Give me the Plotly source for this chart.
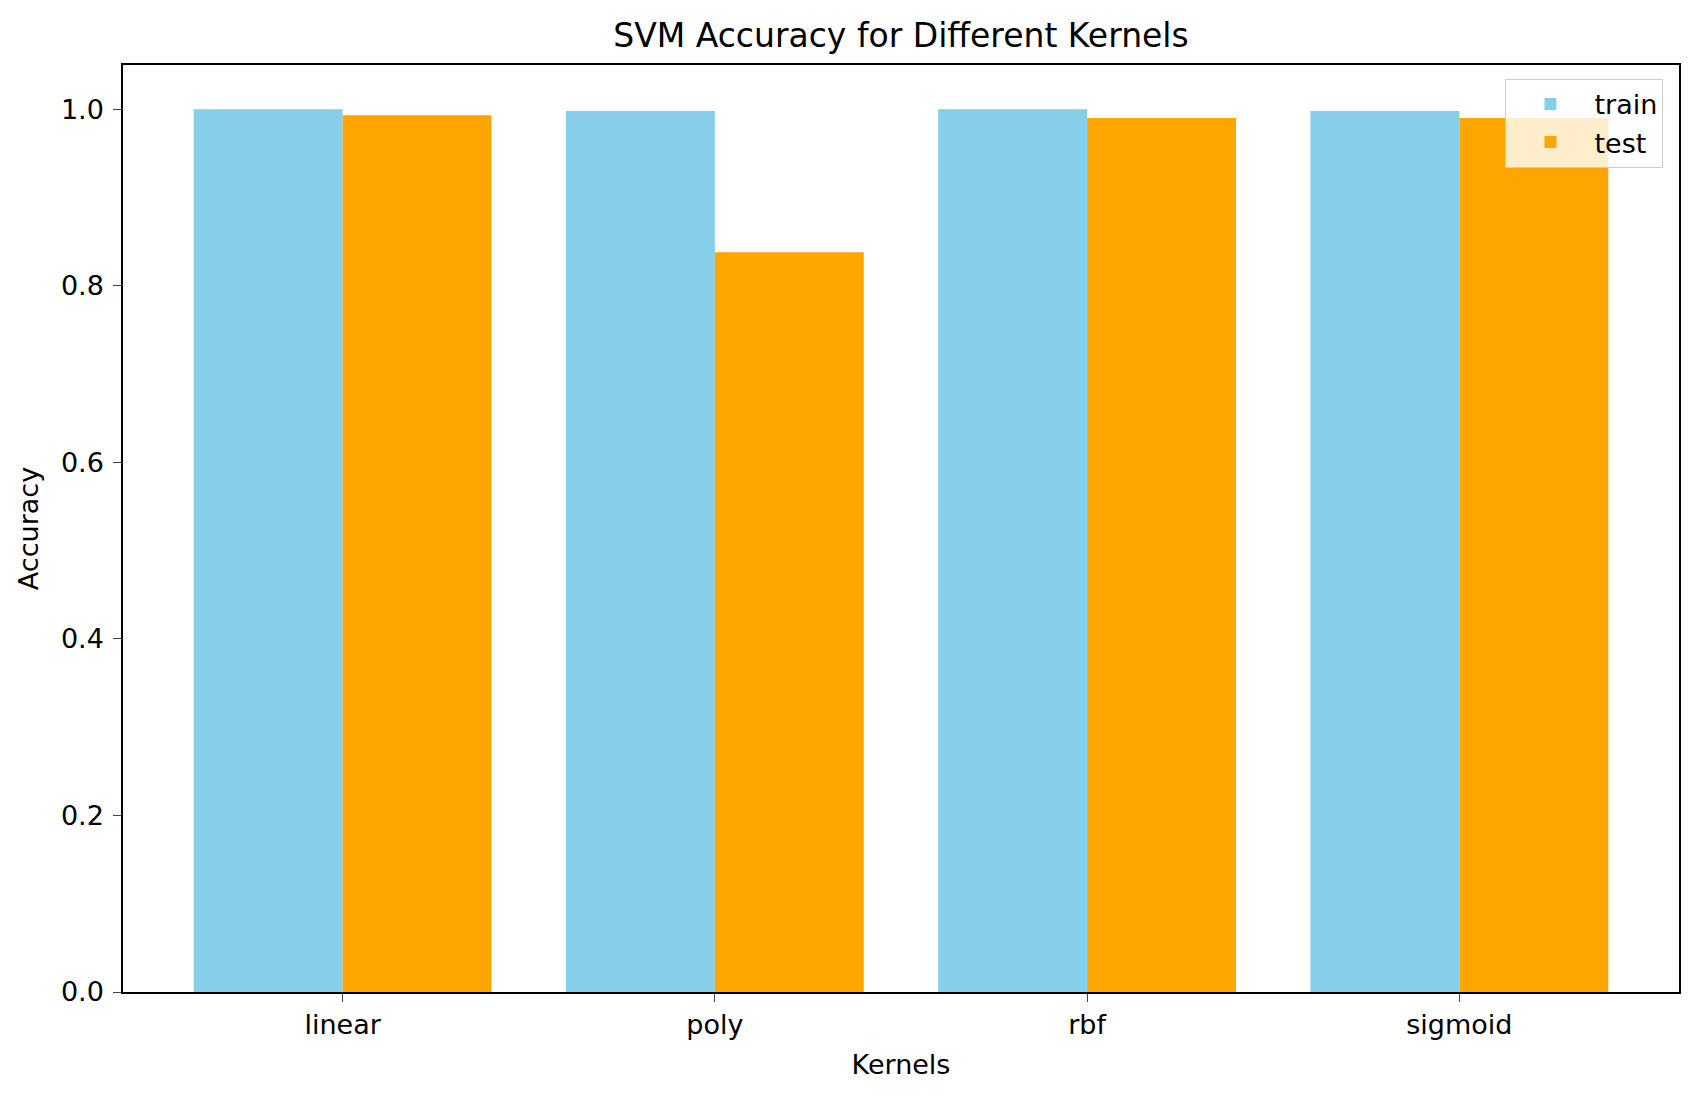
import plotly.graph_objects as go

# SVM accuracy per kernel
kernels = ["linear", "poly", "rbf", "sigmoid"]
train_acc = [1.0, 0.998, 1.0, 0.998]
test_acc = [0.993, 0.838, 0.990, 0.990]

fig = go.Figure()
fig.add_trace(go.Bar(x=kernels, y=train_acc, name="train", marker_color="skyblue",
                     marker_line_width=0))
fig.add_trace(go.Bar(x=kernels, y=test_acc, name="test", marker_color="orange",
                     marker_line_width=0))

fig.update_layout(
    width=1700, height=1099,
    barmode="group", bargap=0.2, bargroupgap=0,
    plot_bgcolor="white", paper_bgcolor="white",
    font=dict(family="DejaVu Sans", size=27, color="black"),
    title=dict(text="SVM Accuracy for Different Kernels", xref="paper", x=0.5,
               xanchor="center", y=0.975, yanchor="middle", font=dict(size=33)),
    margin=dict(l=115, r=29, t=57, b=115),
    legend=dict(x=0.99, y=0.985, xanchor="right", yanchor="top",
                bgcolor="rgba(255,255,255,0.8)", bordercolor="#cccccc", borderwidth=1,
                font=dict(size=27), itemwidth=78),
)
fig.update_xaxes(
    title=dict(text="Kernels", font=dict(size=27), standoff=16), range=[-0.59, 3.59],
    showline=True, linecolor="black", linewidth=1.5, mirror=True,
    ticks="outside", ticklen=8, tickwidth=1.2, showgrid=False,
)
fig.update_yaxes(
    title=dict(text="Accuracy", font=dict(size=27), standoff=14), range=[0, 1.05],
    tickvals=[0, 0.2, 0.4, 0.6, 0.8, 1.0], tickformat=".1f", automargin=True,
    showline=True, linecolor="black", linewidth=1.5, mirror=True,
    ticks="outside", ticklen=8, tickwidth=1.2, showgrid=False, zeroline=False,
    ticklabelstandoff=4,
)

fig.write_html("out.html")
